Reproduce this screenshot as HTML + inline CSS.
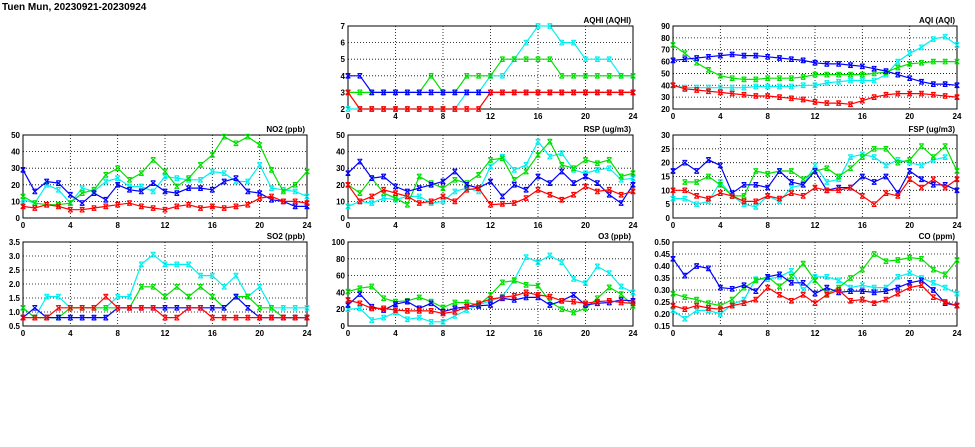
<!DOCTYPE html>
<html><head><meta charset="utf-8"><style>
html,body{margin:0;padding:0;background:#fff;}
svg{display:block;font-family:"Liberation Sans",sans-serif;}
</style></head><body>
<svg id="c" width="975" height="447" viewBox="0 0 975 447">
<text x="2" y="10" font-size="10" font-weight="bold">Tuen Mun, 20230921-20230924</text>
</svg>
<script>
const hours = [0,1,2,3,4,5,6,7,8,9,10,11,12,13,14,15,16,17,18,19,20,21,22,23,24];
const xTicks = [0,4,8,12,16,20,24];
const colors = {blue:'#0000ff',cyan:'#00f0f0',green:'#00e000',red:'#ff0000'};
const seriesOrder = ['cyan','green','blue','red'];

const no2Blue=[29,16,22,21,14,9,15,11,20,17,16,21,16,15,18,18,17,22,24,16,15,11,10,7,7];
const no2Cyan=[11,9,20,17,9,18,16,22,24,19,19,16,25,24,23,23,28,27,22,22,32,18,17,16,13];
const no2Green=[13,9,8,8,9,15,17,26,30,23,27,35,28,19,24,32,38,49,45,49,44,29,16,20,28];
const no2Red=[7,6,8,7,5,5,6,7,8,9,7,6,5,7,8,6,7,6,7,8,12,13,10,10,9];

const aqhiBlue=[4,4,3,3,3,3,3,3,3,3,3,3,3,3,3,3,3,3,3,3,3,3,3,3,3];
const aqhiGreen=[3,3,3,3,3,3,3,4,3,3,4,4,4,5,5,5,5,5,4,4,4,4,4,4,4];
const aqhiCyan=[2,2,2,2,2,2,2,2,2,2,3,3,4,4,5,6,7,7,6,6,5,5,5,4,4];
const aqhiRed=[3,2,2,2,2,2,2,2,2,2,2,2,3,3,3,3,3,3,3,3,3,3,3,3,3];

const aqiBlue=[61,62,63,64,65,66,65,65,64,63,62,61,59,58,58,57,56,54,52,49,46,43,41,41,40];
const aqiGreen=[74,67,59,53,48,46,45,45,46,46,46,47,49,49,49,49,49,50,51,55,58,59,60,60,60];
const aqiCyan=[40,38,38,38,38,38,38,39,39,39,39,40,40,42,43,44,44,44,49,60,67,72,79,81,74];
const aqiRed=[40,37,36,35,34,33,32,31,31,30,29,28,26,25,25,24,27,30,32,33,33,33,32,31,30];

const rspBlue=[27,34,24,25,19,16,18,20,22,28,20,18,22,13,20,17,25,21,28,21,25,21,14,9,20];
const rspGreen=[20,15,24,15,12,8,25,21,18,23,21,26,35,36,23,28,38,46,32,30,35,33,35,25,27];
const rspCyan=[7,10,9,12,11,13,13,9,10,16,18,16,31,37,29,32,46,37,39,29,27,29,30,23,24];
const rspRed=[20,10,13,17,15,13,9,10,13,10,17,18,8,8.5,9,12,17,14,11,14,19,16,17,14,16];

const fspBlue=[17,20,17,21,19,9,12,12,11,17,13,12,17,10,11,11,15,13,15,9,17,14,12,12,10];
const fspGreen=[null,13,13,15,12,8,8,17,16,17,17,14,17,18,15,18,22,25,25,20,21,26,22,26,17];
const fspCyan=[7,7,5,6,13,8,5,4,8,6,11,12,19,13,14,22,23,22,19,21,20,19,21,22,null];
const fspRed=[10,10,8,7,9,8,6,6,8,7,9,8,11,10,10,11,8,5,9,8,14,11,14,11,14];

const so2Blue=[0.8,1.15,0.8,0.8,0.8,0.8,0.8,0.8,1.15,1.15,1.15,1.15,1.15,1.15,1.15,1.15,1.15,1.15,1.55,1.15,0.8,0.8,0.8,0.8,0.8];
const so2Cyan=[1.15,0.8,1.55,1.55,1.15,1.15,1.15,1.15,1.55,1.55,2.7,3.05,2.7,2.7,2.7,2.3,2.3,1.9,2.3,1.55,1.9,1.15,1.15,1.15,1.15];
const so2Green=[1.15,0.8,0.8,0.8,1.15,1.15,1.15,1.15,1.15,1.15,1.9,1.9,1.55,1.9,1.55,1.9,1.55,1.15,1.55,1.55,1.15,1.15,0.8,0.8,0.8];
const so2Red=[0.8,0.8,0.8,1.15,1.15,1.15,1.15,1.55,1.15,1.15,1.15,1.15,0.8,0.8,1.15,1.15,0.8,0.8,0.8,0.8,0.8,0.8,0.8,0.8,0.8];

const o3Blue=[25,38,23,19,26,29,21,27,17,21,23,24,25,33,31,34,34,25,30,37,25,27,28,31,30];
const o3Green=[41,45,47,33,29,30,34,29,22,28,28,25,37,52,54,49,48,29,20,16,21,33,46,38,24];
const o3Cyan=[20,21,7,10,16,8,10,5,5,12,19,25,30,35,55,82,76,84,76,56,51,71,63,47,40];
const o3Red=[31,27,21,21,19,18,18,18,15,17,23,27,32,34,36,40,37,35,30,29,27,29,30,28,27];

const coBlue=[0.43,0.36,0.40,0.39,0.31,0.305,0.32,0.295,0.355,0.365,0.33,0.33,0.285,0.31,0.29,0.295,0.295,0.29,0.295,0.31,0.33,0.34,0.30,0.245,0.235];
const coGreen=[0.285,0.27,0.26,0.245,0.235,0.26,0.31,0.34,0.355,0.315,0.355,0.41,0.34,0.285,0.31,0.35,0.385,0.45,0.42,0.425,0.435,0.43,0.385,0.365,0.425];
const coCyan=[0.215,0.18,0.215,0.215,0.20,0.24,0.26,0.345,0.345,0.355,0.38,0.30,0.355,0.355,0.34,0.31,0.32,0.31,0.31,0.355,0.37,0.35,0.33,0.31,0.285];
const coRed=[0.235,0.22,0.235,0.225,0.22,0.235,0.245,0.26,0.31,0.28,0.255,0.28,0.245,0.28,0.30,0.255,0.26,0.245,0.26,0.285,0.31,0.32,0.27,0.25,0.235];

const no2Ticks=["0","10","20","30","40","50"];
const aqhiTicks=["2","3","4","5","6","7"];
const aqiTicks=["20","30","40","50","60","70","80","90"];
const rspTicks=["0","10","20","30","40","50"];
const fspTicks=["0","5","10","15","20","25","30"];
const so2Ticks=["0.5","1.0","1.5","2.0","2.5","3.0","3.5"];
const o3Ticks=["0","20","40","60","80","100"];
const coTicks=["0.15","0.20","0.25","0.30","0.35","0.40","0.45","0.50"];

const NS='http://www.w3.org/2000/svg';
const svg=document.getElementById('c');
function mk(tag,attrs,parent){const e=document.createElementNS(NS,tag);for(const k in attrs)e.setAttribute(k,attrs[k]);(parent||svg).appendChild(e);return e;}

const cols=[[23,307],[348,633],[673,957]];
const rows=[[26,109],[135,218],[242,326]];

const panels=[
 {id:'aqhi',title:'AQHI (AQHI)',c:1,r:0,ticks:aqhiTicks,s:{blue:aqhiBlue,cyan:aqhiCyan,green:aqhiGreen,red:aqhiRed}},
 {id:'aqi',title:'AQI (AQI)',c:2,r:0,ticks:aqiTicks,s:{blue:aqiBlue,cyan:aqiCyan,green:aqiGreen,red:aqiRed}},
 {id:'no2',title:'NO2 (ppb)',c:0,r:1,ticks:no2Ticks,s:{blue:no2Blue,cyan:no2Cyan,green:no2Green,red:no2Red}},
 {id:'rsp',title:'RSP (ug/m3)',c:1,r:1,ticks:rspTicks,s:{blue:rspBlue,cyan:rspCyan,green:rspGreen,red:rspRed}},
 {id:'fsp',title:'FSP (ug/m3)',c:2,r:1,ticks:fspTicks,s:{blue:fspBlue,cyan:fspCyan,green:fspGreen,red:fspRed}},
 {id:'so2',title:'SO2 (ppb)',c:0,r:2,ticks:so2Ticks,s:{blue:so2Blue,cyan:so2Cyan,green:so2Green,red:so2Red}},
 {id:'o3',title:'O3 (ppb)',c:1,r:2,ticks:o3Ticks,s:{blue:o3Blue,cyan:o3Cyan,green:o3Green,red:o3Red}},
 {id:'co',title:'CO (ppm)',c:2,r:2,ticks:coTicks,s:{blue:coBlue,cyan:coCyan,green:coGreen,red:coRed}},
];

panels.forEach(p=>{
  const [x0,x1]=cols[p.c],[y0,y1]=rows[p.r];
  const g=mk('g',{});
  
  
  const tv=p.ticks.map(Number);
  const ymin=tv[0],ymax=tv[tv.length-1];
  const X=v=>x0+(v-0)/(24-0)*(x1-x0);
  const Y=v=>y1-(v-ymin)/(ymax-ymin)*(y1-y0);
  // grid
  tv.forEach((v,i)=>{
    if(i>0&&i<tv.length-1){const l=mk('line',{x1:x0,x2:x1,y1:Y(v),y2:Y(v),stroke:'#000','stroke-width':0.8,'stroke-dasharray':'1,2'},g);}
    const t=mk('text',{x:x0-3,y:Y(v)+3,'font-size':8,'font-weight':'bold','text-anchor':'end'},g);
    
    t.textContent=p.ticks[i];
  });
  xTicks.forEach((v,i)=>{
    if(i>0&&i<xTicks.length-1){const l=mk('line',{x1:X(v),x2:X(v),y1:y0,y2:y1,stroke:'#000','stroke-width':0.8,'stroke-dasharray':'1,2'},g);}
    const t=mk('text',{x:X(v),y:y1+10,'font-size':8,'font-weight':'bold','text-anchor':'middle'},g);
    
    t.textContent=String(v);
  });
  const fr=mk('rect',{x:x0,y:y0,width:x1-x0,height:y1-y0,fill:'none',stroke:'#000','stroke-width':1},g);
  
  const tt=mk('text',{x:x1-2,y:y0-3,'font-size':8,'font-weight':'bold','text-anchor':'end'},g);
  
  tt.textContent=p.title;
  seriesOrder.forEach(k=>{
    const vals=p.s[k],col=colors[k];
    let d='',pen=false;
    vals.forEach((v,i)=>{
      if(v===null||v<ymin||v>ymax+1e-9){pen=false;return;}
      d+=(pen?'L':'M')+X(hours[i]).toFixed(1)+','+Y(v).toFixed(1);pen=true;
    });
    const pl=mk('path',{d:d,fill:'none',stroke:col,'stroke-width':1.2},g);
    
    vals.forEach((v,i)=>{
      if(v===null||v<ymin||v>ymax+1e-9)return;
      const cx=X(hours[i]),cy=Y(v),r=2.3;
      const m=mk('path',{d:`M${cx-r},${cy-r}L${cx+r},${cy+r}M${cx-r},${cy+r}L${cx+r},${cy-r}M${cx-r},${cy-r}H${cx+r}M${cx-r},${cy+r}H${cx+r}`,stroke:col,'stroke-width':1.1,fill:'none'},g);
      
    });
  });
});
</script>
</body></html>
